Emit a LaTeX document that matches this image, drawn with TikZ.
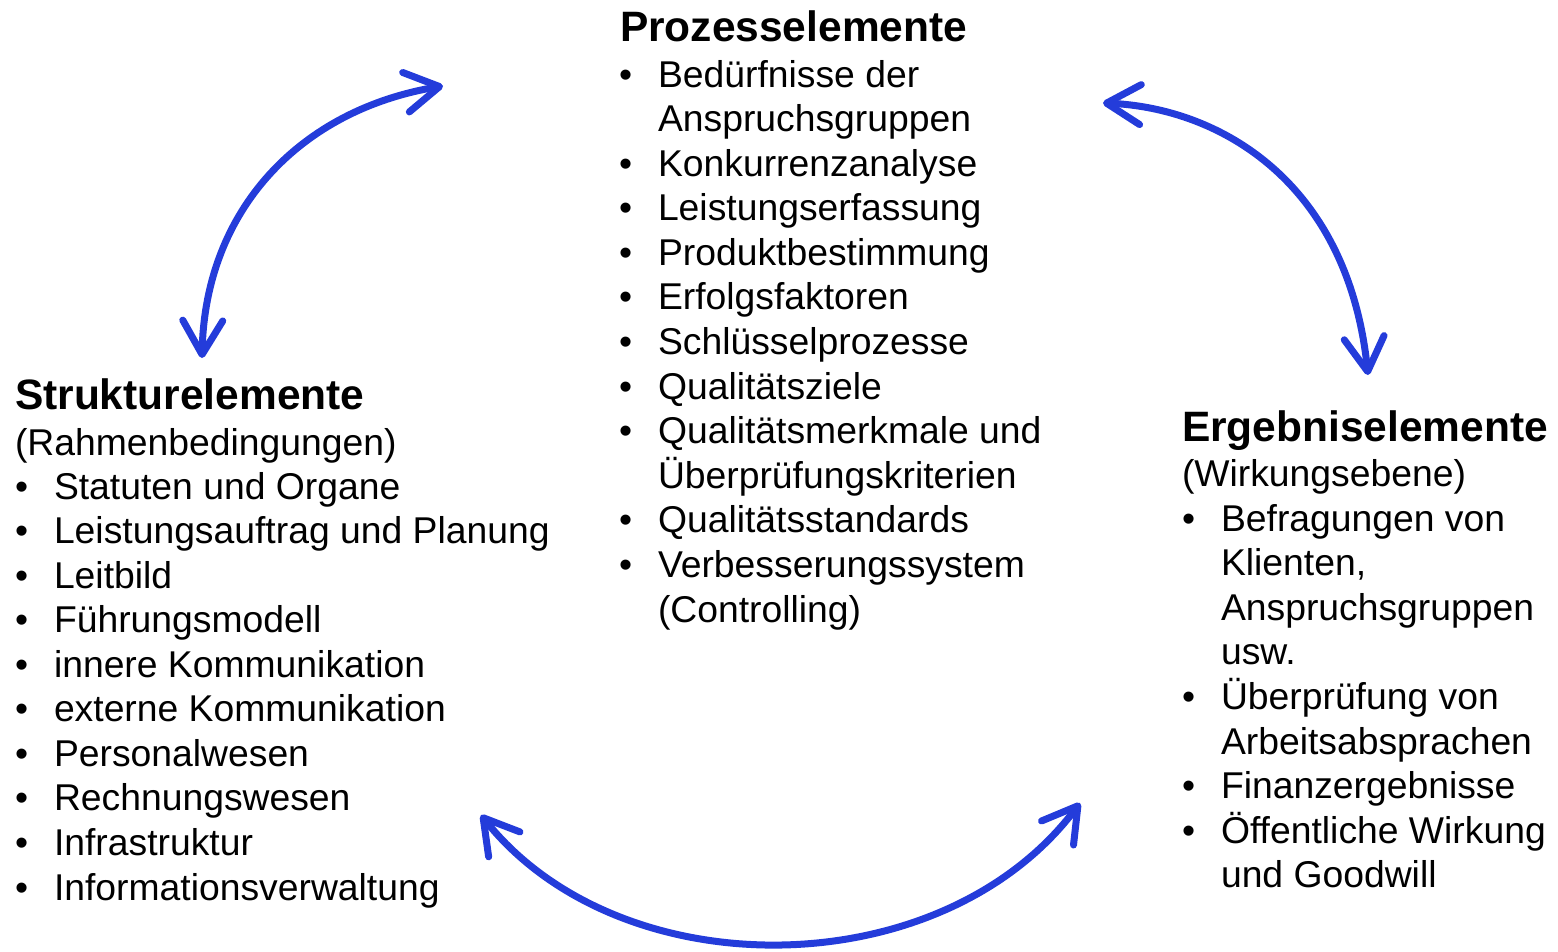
\documentclass[tikz,border=0pt]{standalone}
\usepackage{fontspec}
\setmainfont{Liberation Sans}
\usetikzlibrary{arrows.meta}
\definecolor{cycleblue}{RGB}{36,60,218}

% one bulleted line: name, x of the bullet, baseline y, text
\newcommand{\cycleitem}[4]{%
  \node (#1b) at (#2,#3) {•};
  \node (#1) at ({#2+39},#3) {#4};}
% continuation line of a bulleted item
\newcommand{\cyclecont}[4]{%
  \node (#1) at ({#2+39},#3) {#4};}

\begin{document}
\begin{tikzpicture}[x=1pt,y=-1pt,
  every node/.style={inner sep=0pt, outer sep=0pt, anchor=base west,
    font=\fontsize{37.3}{44}\selectfont},
  heading/.style={font=\fontsize{42.5}{50}\selectfont\bfseries},
  >={Straight Barb[length=34pt,width=40pt,round]},
  cyclearrow/.style={draw=cycleblue, line width=7pt, line cap=round, <->}]

\useasboundingbox (0,0) rectangle (1558,951);

% ---------- Prozesselemente ----------
\node[heading] (ptitle) at (620,41) {Prozesselemente};
\cycleitem{p1}{619}{87}{Bedürfnisse der}
\cyclecont{p2}{619}{131.6}{Anspruchsgruppen}
\cycleitem{p3}{619}{176.2}{Konkurrenzanalyse}
\cycleitem{p4}{619}{220.7}{Leistungserfassung}
\cycleitem{p5}{619}{265.3}{Produktbestimmung}
\cycleitem{p6}{619}{309.9}{Erfolgsfaktoren}
\cycleitem{p7}{619}{354.5}{Schlüsselprozesse}
\cycleitem{p8}{619}{399.1}{Qualitätsziele}
\cycleitem{p9}{619}{443.6}{Qualitätsmerkmale und}
\cyclecont{p10}{619}{488.2}{Überprüfungskriterien}
\cycleitem{p11}{619}{532.8}{Qualitätsstandards}
\cycleitem{p12}{619}{577.4}{Verbesserungssystem}
\cyclecont{p13}{619}{622}{(Controlling)}

% ---------- Strukturelemente ----------
\node[heading] (stitle) at (15,409) {Strukturelemente};
\node (ssub) at (15,455) {(Rahmenbedingungen)};
\cycleitem{s1}{15}{499}{Statuten und Organe}
\cycleitem{s2}{15}{543.6}{Leistungsauftrag und Planung}
\cycleitem{s3}{15}{588.1}{Leitbild}
\cycleitem{s4}{15}{632.7}{Führungsmodell}
\cycleitem{s5}{15}{677.2}{innere Kommunikation}
\cycleitem{s6}{15}{721.8}{externe Kommunikation}
\cycleitem{s7}{15}{766.4}{Personalwesen}
\cycleitem{s8}{15}{810.9}{Rechnungswesen}
\cycleitem{s9}{15}{855.5}{Infrastruktur}
\cycleitem{s10}{15}{900}{Informationsverwaltung}

% ---------- Ergebniselemente ----------
\node[heading] (etitle) at (1182,441) {Ergebniselemente};
\node (esub) at (1182,486) {(Wirkungsebene)};
\cycleitem{e1}{1182}{531}{Befragungen von}
\cyclecont{e2}{1182}{575.6}{Klienten,}
\cyclecont{e3}{1182}{620.2}{Anspruchsgruppen}
\cyclecont{e4}{1182}{664.8}{usw.}
\cycleitem{e5}{1182}{709.4}{Überprüfung von}
\cyclecont{e6}{1182}{754}{Arbeitsabsprachen}
\cycleitem{e7}{1182}{798.6}{Finanzergebnisse}
\cycleitem{e8}{1182}{843.2}{Öffentliche Wirkung}
\cyclecont{e9}{1182}{887.8}{und Goodwill}

% ---------- arrow end points ----------
\coordinate (sp) at (202,358);   % Struktur -> Prozess
\coordinate (ps) at (443,86);
\coordinate (pe) at (1103,103);  % Prozess -> Ergebnis
\coordinate (ep) at (1368,375);
\coordinate (se) at (481,815);   % Struktur -> Ergebnis
\coordinate (es) at (1080,803);

% ---------- cycle arrows ----------
\draw[cyclearrow] (sp) .. controls (205,210) and (300,110) .. (ps);
\draw[cyclearrow] (pe) .. controls (1220,108) and (1348,182) .. (ep);
\draw[cyclearrow] (se) .. controls (620,990) and (942,987) .. (es);

\end{tikzpicture}
\end{document}
